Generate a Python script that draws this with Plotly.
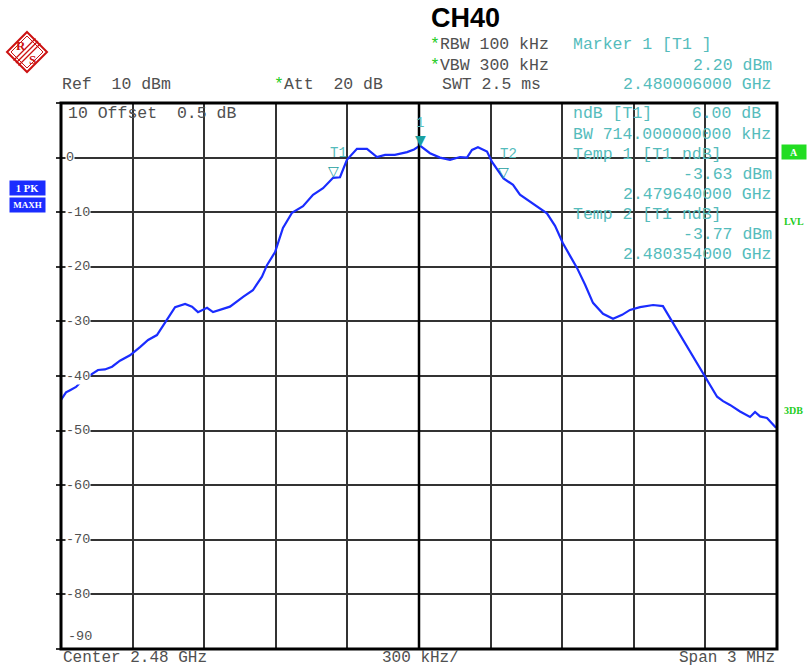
import plotly.graph_objects as go

# ---------------- data ----------------
freq_mhz = [2478.500, 2478.521, 2478.538, 2478.563, 2478.592, 2478.622, 2478.655, 2478.684,
            2478.714, 2478.747, 2478.789, 2478.831, 2478.865, 2478.902, 2478.936, 2478.978,
            2479.020, 2479.049, 2479.074, 2479.112, 2479.137, 2479.175, 2479.208, 2479.263,
            2479.304, 2479.342, 2479.363, 2479.397, 2479.430, 2479.468, 2479.514, 2479.556,
            2479.598, 2479.640, 2479.669, 2479.698, 2479.740, 2479.782, 2479.824, 2479.858,
            2479.899, 2479.950, 2479.979, 2480.004, 2480.046, 2480.088, 2480.130, 2480.172,
            2480.201, 2480.222, 2480.247, 2480.285, 2480.306, 2480.354, 2480.394, 2480.423,
            2480.465, 2480.494, 2480.536, 2480.570, 2480.603, 2480.633, 2480.662, 2480.696,
            2480.729, 2480.771, 2480.813, 2480.851, 2480.884, 2480.926, 2480.981, 2481.022,
            2481.064, 2481.123, 2481.156, 2481.198, 2481.228, 2481.249, 2481.274, 2481.303,
            2481.345, 2481.387, 2481.408, 2481.429, 2481.458, 2481.479, 2481.496]
level_dbm = [-44.4, -43.0, -42.6, -42.0, -40.7, -39.9, -38.9, -38.8,
             -38.3, -37.2, -36.2, -34.7, -33.4, -32.5, -30.3, -27.4,
             -26.8, -27.3, -28.3, -27.5, -28.3, -27.8, -27.3, -25.5,
             -24.3, -21.8, -19.7, -17.3, -12.9, -10.1, -8.9, -6.8,
             -5.6, -3.7, -3.6, -0.4, 1.6, 1.6, 0.1, 0.5,
             0.5, 1.0, 1.5, 2.2, 0.8, 0.0, -0.4, 0.1,
             0.0, 1.4, 1.9, 1.1, -0.8, -3.8, -5.0, -6.8,
             -8.1, -9.0, -10.2, -12.5, -15.7, -18.0, -20.2, -23.3,
             -26.6, -28.6, -29.5, -28.8, -27.9, -27.4, -27.0, -27.2,
             -30.3, -34.7, -37.0, -40.2, -42.3, -43.8, -44.6, -45.3,
             -46.5, -47.5, -46.6, -47.4, -47.7, -48.6, -49.5]

marker_names = ["1", "T1", "T2"]
marker_freq = [2480.006, 2479.640, 2480.354]
marker_level = [2.20, -3.63, -3.77]

y_tick_values = [0, -10, -20, -30, -40, -50, -60, -70, -80]
y_tick_labels = ["0", "-10", "-20", "-30", "-40", "-50", "-60", "-70", "-80"]

# ---------------- layout helpers ----------------
L, R, T, B = 61, 777, 103, 649
W, H = R - L, B - T


def px(x):
    return (x - L) / W


def py(y):
    return (B - y) / H


MONO = "Liberation Mono, Courier New, monospace"
GRAY = "#505050"
TEAL = "#55bcbc"
GREEN = "#22cc22"
BLUE = "#1a2cff"
FS = 16.5

fig = go.Figure()
fig.add_trace(go.Scatter(x=freq_mhz, y=level_dbm, mode="lines",
                         line=dict(color=BLUE, width=2.2), hoverinfo="skip",
                         showlegend=False))

ann = []


def text(x, y, s, color=GRAY, size=FS, anchor="left", fam=MONO, **kw):
    ann.append(dict(xref="paper", yref="paper", x=px(x), y=py(y), text=s,
                    showarrow=False, xanchor=anchor, yanchor="middle",
                    font=dict(family=fam, size=size, color=color), **kw))


star = '<span style="color:%s">*</span>' % GREEN
# header
ann.append(dict(xref="paper", yref="paper", x=px(465), y=py(18), text="<b>CH40</b>",
                showarrow=False, xanchor="center", yanchor="middle",
                font=dict(family="Liberation Sans Narrow, Liberation Sans, Arial", size=27,
                          color="black")))
text(428, 45, star + "RBW 100 kHz")
text(571, 45, "Marker 1 [T1 ]", TEAL)
text(428, 65, star + "VBW 300 kHz")
text(774, 65, "2.20 dBm", TEAL, anchor="right")
text(60, 85, "Ref  10 dBm")
text(272, 85, star + "Att  20 dB")
text(440, 85, "SWT 2.5 ms")
text(774, 85, "2.480006000 GHz", TEAL, anchor="right")

# in-plot marker info
text(571, 113, "ndB [T1]    6.00 dB", TEAL)
text(571, 134, "BW 714.000000000 kHz", TEAL)
text(571, 154, "Temp 1 [T1 ndB]", TEAL)
text(774, 174, "-3.63 dBm", TEAL, anchor="right")
text(774, 194, "2.479640000 GHz", TEAL, anchor="right")
text(571, 214, "Temp 2 [T1 ndB]", TEAL)
text(774, 234, "-3.77 dBm", TEAL, anchor="right")
text(774, 254, "2.480354000 GHz", TEAL, anchor="right")

# y labels
text(66, 113, "10 Offset  0.5 dB", GRAY)
for v, lab in zip(y_tick_values, y_tick_labels):
    ann.append(dict(xref="paper", yref="y", x=px(65), y=v, text=lab, showarrow=False,
                    xanchor="left", yanchor="middle", bgcolor="white", borderpad=0,
                    font=dict(family=MONO, size=13.5, color=GRAY)))
text(66, 636, "-90", GRAY, size=13.5)

# bottom
text(61, 658, "Center 2.48 GHz", size=16)
text(380, 658, "300 kHz/", size=16)
text(777, 658, "Span 3 MHz", anchor="right", size=16)

# side labels
BOXF = "Liberation Serif, DejaVu Serif, serif"
ann.append(dict(xref="paper", yref="paper", x=px(27), y=py(187.5), text="<b>1 PK</b>",
                showarrow=False, xanchor="center", yanchor="middle", bgcolor=BLUE,
                width=33, height=12, borderpad=1,
                font=dict(family=BOXF, size=10.5, color="white")))
ann.append(dict(xref="paper", yref="paper", x=px(27), y=py(204.5), text="<b>MAXH</b>",
                showarrow=False, xanchor="center", yanchor="middle", bgcolor=BLUE,
                width=33, height=12, borderpad=1,
                font=dict(family=BOXF, size=9, color="white")))
ann.append(dict(xref="paper", yref="paper", x=px(794), y=py(152), text="<b>A</b>",
                showarrow=False, xanchor="center", yanchor="middle", bgcolor="#22dd22",
                width=22, height=12, borderpad=1,
                font=dict(family=BOXF, size=10, color="white")))
text(782, 221, "<b>LVL</b>", "#22cc22", size=10, fam=BOXF)
text(782, 410, "<b>3DB</b>", "#22cc22", size=10, fam=BOXF)

# markers
for name, f, lv in zip(marker_names, marker_freq, marker_level):
    sym = "\u25BC" if name == "1" else "\u25BD"
    ann.append(dict(x=f, y=lv, xref="x", yref="y", text=sym, showarrow=False,
                    xanchor="center", yanchor="bottom", yshift=-4,
                    font=dict(family="DejaVu Sans", size=14, color="#1aa0a0")))
    ann.append(dict(x=f, y=lv, xref="x", yref="y", text=name, showarrow=False,
                    xanchor="center", yanchor="bottom", yshift=14 if name != "1" else 13,
                    xshift=0 if name == "1" else 5,
                    font=dict(family=MONO, size=14, color=TEAL)))

# shapes: center line, frame, logo
shapes = [
    dict(type="line", xref="x", yref="paper", x0=2480.0, x1=2480.0, y0=0, y1=1,
         line=dict(color="black", width=2.5)),
    dict(type="rect", xref="paper", yref="paper", x0=0, x1=1, y0=0, y1=1,
         line=dict(color="black", width=3)),
]
cx, cy, r = 27, 52, 20


def pt(x, y):
    return "%f,%f" % (px(x), py(y))


RED = "#cc1111"
shapes.append(dict(type="path", xref="paper", yref="paper",
                   path="M%s L%s L%s L%s Z" % (pt(cx, cy - r), pt(cx + r, cy), pt(cx, cy + r), pt(cx - r, cy)),
                   line=dict(color=RED, width=2)))
shapes.append(dict(type="path", xref="paper", yref="paper",
                   path="M%s L%s L%s L%s Z" % (pt(cx, cy - r + 4), pt(cx + r - 4, cy), pt(cx, cy + r - 4), pt(cx - r + 4, cy)),
                   line=dict(color=RED, width=1)))
for d in (-2.5, 0, 2.5):
    shapes.append(dict(type="line", xref="paper", yref="paper",
                       x0=px(cx - 11 + d), y0=py(cy + 11 + d), x1=px(cx + 11 + d), y1=py(cy - 11 + d),
                       line=dict(color=RED, width=1.2)))
ann.append(dict(xref="paper", yref="paper", x=px(21), y=py(46), text="<b>R</b>", showarrow=False,
                xanchor="center", yanchor="middle",
                font=dict(family=BOXF, size=13, color=RED)))
ann.append(dict(xref="paper", yref="paper", x=px(32), y=py(59), text="<b>S</b>", showarrow=False,
                xanchor="center", yanchor="middle",
                font=dict(family=BOXF, size=13, color=RED)))

fig.update_layout(
    width=810, height=669,
    margin=dict(l=L, r=810 - R, t=T, b=669 - B),
    paper_bgcolor="white", plot_bgcolor="white",
    showlegend=False,
    annotations=ann, shapes=shapes,
    xaxis=dict(range=[2478.5, 2481.5], tick0=2478.5, dtick=0.3, showgrid=True,
               gridcolor="#333333", gridwidth=1.5, showticklabels=False, zeroline=False,
               ticks="", showline=False, fixedrange=True),
    yaxis=dict(range=[-90, 10], tick0=0, dtick=10, showgrid=True, gridcolor="#333333",
               gridwidth=1.5, showticklabels=False, zeroline=False, ticks="outside",
               ticklen=4, tickcolor="#333333", tickwidth=1.5, showline=False, fixedrange=True),
)

fig.write_html("out.html", config={"displayModeBar": False},
               post_script="document.body.style.margin='0';document.body.style.overflow='hidden';")
